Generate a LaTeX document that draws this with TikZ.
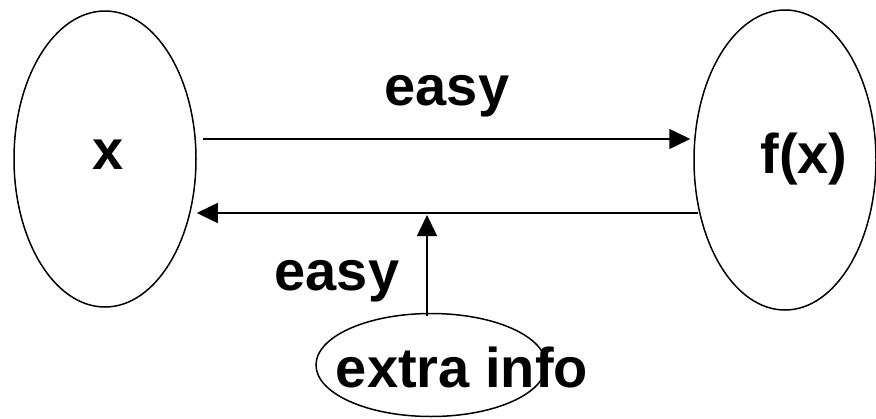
\documentclass[tikz,border=0pt]{standalone}
\usepackage{fontspec}
\setmainfont{Liberation Sans}
\usetikzlibrary{shapes.geometric,arrows.meta}
\begin{document}
\begin{tikzpicture}[x=1pt,y=-1pt,
  oval/.style={draw,ellipse,line width=1.5pt,inner sep=0pt},
  lbl/.style={anchor=base,inner sep=0pt,font=\bfseries\fontsize{56}{60}\selectfont},
  arr/.style={line width=1.5pt,-{Triangle[length=21pt,width=20pt]}}]
\useasboundingbox (0,0) rectangle (876,418);
% domain and image sets
\node[oval,minimum width=182pt,minimum height=296pt] (x)  at (105,159) {};
\node[oval,minimum width=182pt,minimum height=300pt] (fx) at (785,160) {};
\node[lbl] (xl)  at (108,169) {x};
\node[lbl] (fxl) at (804,173) {f(x)};
% trapdoor information
\node[oval,minimum width=230pt,minimum height=103pt] (info) at (431,365) {};
\node[lbl] (infol) at (462,387) {extra info};
% rows of the two horizontal arrows
\coordinate (ty) at (0,139);
\coordinate (by) at (0,213);
\coordinate (join) at (427,215);
\draw[arr,shorten <=6pt,shorten >=3pt] (x.east |- ty) -- (fx.west |- ty);
\draw[arr,shorten <=-5pt] (fx.west |- by) -- (x.east |- by);
\draw[arr,shorten <=-3pt] (info.north -| join) -- (join);
\node[lbl] (e1) at (447,105) {easy};
\node[lbl] (e2) at (337,290) {easy};
\end{tikzpicture}
\end{document}
